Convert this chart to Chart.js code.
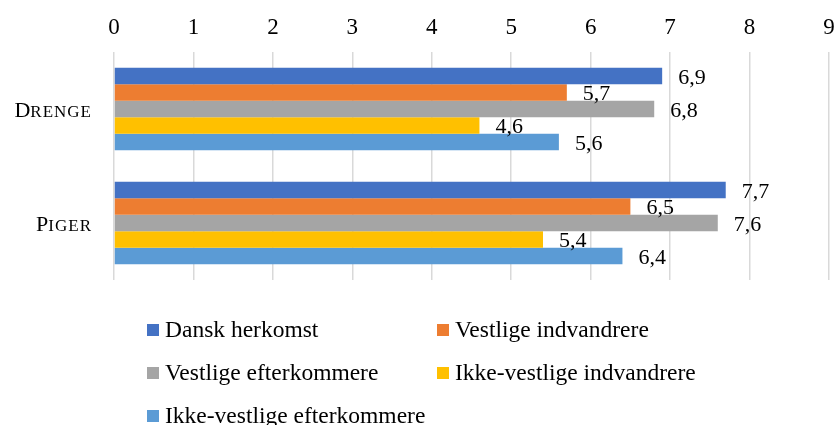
<!DOCTYPE html>
<html>
<head>
<meta charset="utf-8">
<script src="https://cdn.jsdelivr.net/npm/chart.js@4"></script>
<style>
  html, body { margin: 0; padding: 0; background: #fff; }
  #wrap { width: 835px; height: 425px; }
</style>
</head>
<body>
<div id="wrap"><canvas id="myChart" width="835" height="425"></canvas></div>
<script>
// Data
const groups = ['Drenge', 'Piger'];
const seriesNames = ['Dansk herkomst', 'Vestlige indvandrere', 'Vestlige efterkommere', 'Ikke-vestlige indvandrere', 'Ikke-vestlige efterkommere'];
const danskHerkomst = [6.9, 7.7];
const vestligeIndvandrere = [5.7, 6.5];
const vestligeEfterkommere = [6.8, 7.6];
const ikkeVestligeIndvandrere = [4.6, 5.4];
const ikkeVestligeEfterkommere = [5.6, 6.4];
const xTicks = [0, 1, 2, 3, 4, 5, 6, 7, 8, 9];

const colors = ['#4472C4', '#ED7D31', '#A5A5A5', '#FFC000', '#5B9BD5'];
const serif = "'Liberation Serif', 'Times New Roman', serif";

const seriesValues = [danskHerkomst, vestligeIndvandrere, vestligeEfterkommere, ikkeVestligeIndvandrere, ikkeVestligeEfterkommere];

// value labels to the right of each bar, decimal comma
const barLabels = {
    id: 'barLabels',
    afterDatasetsDraw(chart) {
        const ctx = chart.ctx;
        ctx.save();
        ctx.font = '22px ' + serif;
        ctx.fillStyle = '#000';
        ctx.textAlign = 'left';
        ctx.textBaseline = 'middle';
        chart.data.datasets.forEach((ds, i) => {
            chart.getDatasetMeta(i).data.forEach((bar, j) => {
                const txt = String(ds.data[j]).replace('.', ',');
                ctx.fillText(txt, bar.x + 16, bar.y + 2);
            });
        });
        ctx.restore();
    }
};

// category names as small caps: big first letter, smaller capitals after
const groupLabels = {
    id: 'groupLabels',
    afterDraw(chart) {
        const ctx = chart.ctx;
        const y = chart.scales.y;
        const right = 92;
        ctx.save();
        ctx.fillStyle = '#000';
        ctx.textBaseline = 'alphabetic';
        ctx.textAlign = 'left';
        groups.forEach((g, i) => {
            const base = y.getPixelForValue(i) + 7.5;
            const rest = g.slice(1).toUpperCase();
            ctx.font = '17px ' + serif;
            ctx.letterSpacing = '1px';
            const restW = ctx.measureText(rest).width;
            ctx.fillText(rest, right - restW, base);
            ctx.font = '22px ' + serif;
            ctx.letterSpacing = '0px';
            const firstW = ctx.measureText(g[0]).width;
            ctx.fillText(g[0], right - restW - firstW, base);
        });
        ctx.restore();
    }
};

// two-column legend under the plot
const gridLegend = {
    id: 'gridLegend',
    afterDraw(chart) {
        const ctx = chart.ctx;
        const cols = [147, 437];
        const rowTop = 330, rowGap = 43;
        ctx.save();
        ctx.font = '23.5px ' + serif;
        ctx.textAlign = 'left';
        ctx.textBaseline = 'middle';
        chart.data.datasets.forEach((ds, i) => {
            const x = cols[i % 2];
            const y = rowTop + Math.floor(i / 2) * rowGap;
            ctx.fillStyle = ds.backgroundColor;
            ctx.fillRect(x, y - 6, 12, 12);
            ctx.fillStyle = '#000';
            ctx.fillText(ds.label, x + 18, y + 1);
        });
        ctx.restore();
    }
};

new Chart(document.getElementById('myChart').getContext('2d'), {
    type: 'bar',
    data: {
        labels: groups,
        datasets: seriesNames.map((name, i) => ({
            label: name,
            data: seriesValues[i],
            backgroundColor: colors[i],
            borderWidth: 0,
            categoryPercentage: 0.725,
            barPercentage: 1
        }))
    },
    options: {
        indexAxis: 'y',
        responsive: false,
        animation: false,
        layout: {
            padding: { top: 0, left: 0, right: 6, bottom: 145 }
        },
        plugins: {
            legend: { display: false },
            tooltip: { enabled: false }
        },
        scales: {
            x: {
                position: 'top',
                min: 0,
                max: 9,
                afterBuildTicks: (s) => { s.ticks = xTicks.map(v => ({ value: v })); },
                afterFit: (s) => {
                    s.height = 52;
                    s.paddingLeft = 0;
                    s.paddingRight = 0;
                },
                ticks: {
                    padding: 10,
                    color: '#000',
                    font: { family: serif, size: 23 }
                },
                grid: {
                    color: '#d9d9d9',
                    lineWidth: 1.5,
                    drawTicks: false
                },
                border: { display: false }
            },
            y: {
                ticks: { display: false },
                grid: { display: false },
                border: { display: false },
                afterFit: (s) => { s.width = 114; }
            }
        }
    },
    plugins: [barLabels, groupLabels, gridLegend]
});
</script>
</body>
</html>
